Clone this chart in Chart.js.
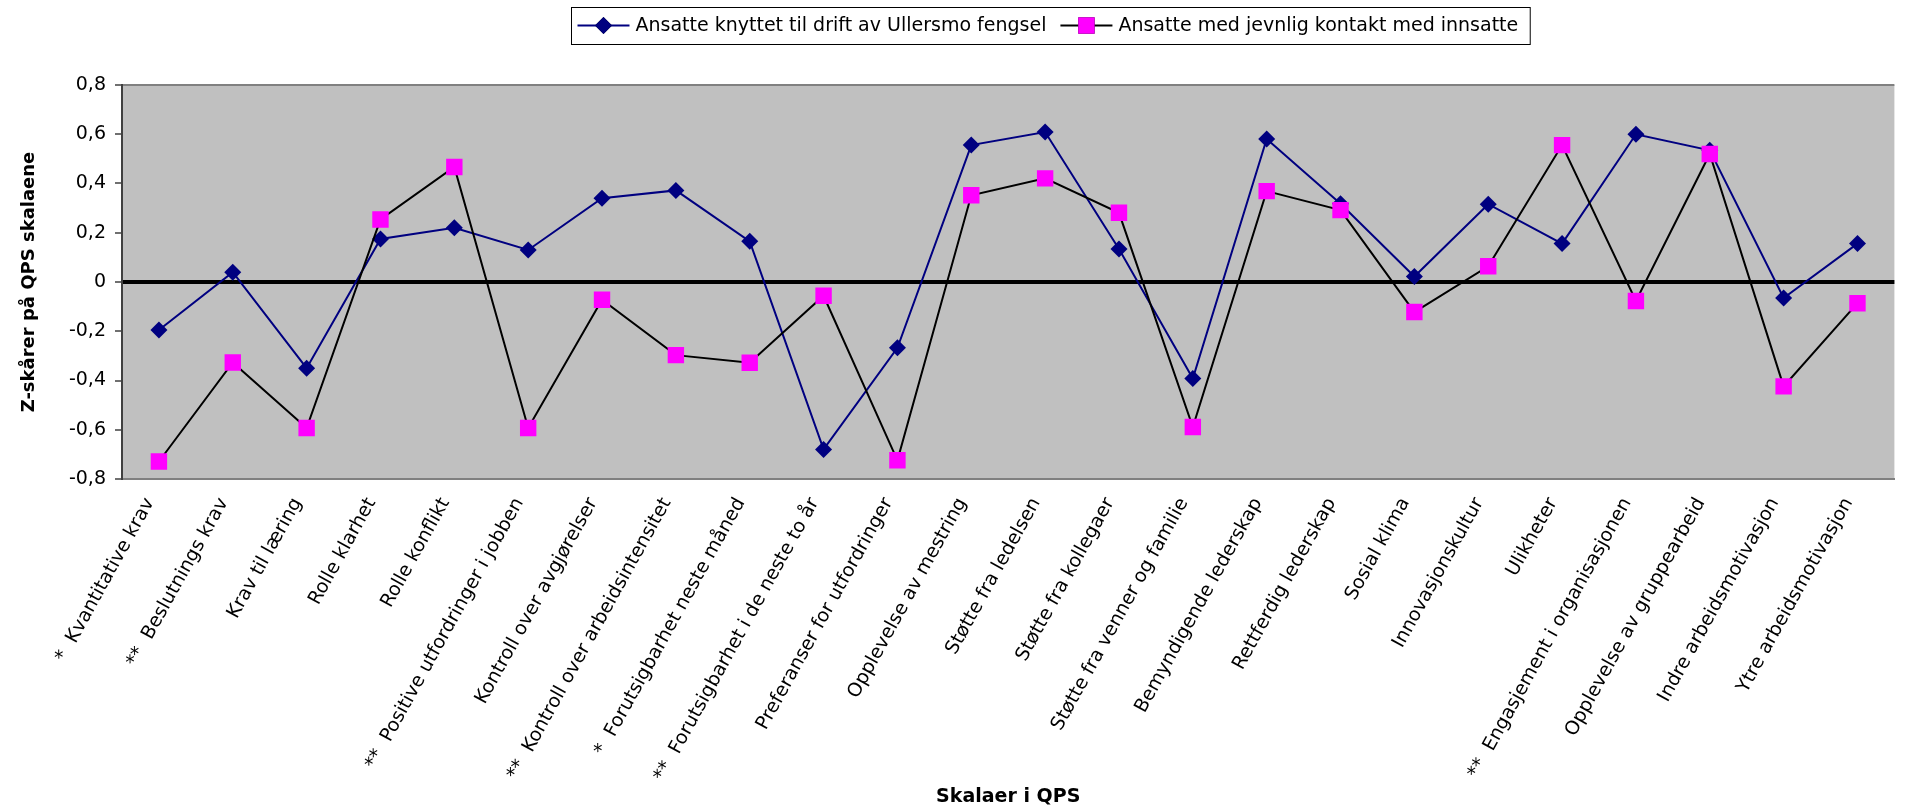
<!DOCTYPE html>
<html lang="no">
<head>
<meta charset="utf-8">
<title>QPS-skalaer</title>
<script src="https://cdn.jsdelivr.net/npm/chart.js@4.4.1/dist/chart.umd.min.js"></script>
<style>
  html, body { margin: 0; padding: 0; background: #ffffff; }
  canvas { display: block; }
</style>
</head>
<body>
<canvas id="chart" width="1906" height="810"></canvas>
<script>
// QPS-skalaer (kategorier på x-aksen)
const categories = [
  '*  Kvantitative krav',
  '**  Beslutnings krav',
  'Krav til læring',
  'Rolle klarhet',
  'Rolle konflikt',
  '**  Positive utfordringer i jobben',
  'Kontroll over avgjørelser',
  '**  Kontroll over arbeidsintensitet',
  '*  Forutsigbarhet neste måned',
  '**  Forutsigbarhet i de neste to år',
  'Preferanser for utfordringer',
  'Opplevelse av mestring',
  'Støtte fra ledelsen',
  'Støtte fra kollegaer',
  'Støtte fra venner og familie',
  'Bemyndigende lederskap',
  'Rettferdig lederskap',
  'Sosial klima',
  'Innovasjonskultur',
  'Ulikheter',
  '**  Engasjement i organisasjonen',
  'Opplevelse av gruppearbeid',
  'Indre arbeidsmotivasjon',
  'Ytre arbeidsmotivasjon'
];

// Z-skårer per gruppe
const driftLabel = 'Ansatte knyttet til drift av Ullersmo fengsel';
const driftValues = [
  -0.195, 0.04, -0.35, 0.175, 0.22, 0.13, 0.34, 0.372, 0.165, -0.68, -0.267, 0.556,
  0.609, 0.134, -0.392, 0.581, 0.318, 0.022, 0.316, 0.156, 0.6, 0.535, -0.065, 0.156
];

const kontaktLabel = 'Ansatte med jevnlig kontakt med innsatte';
const kontaktValues = [
  -0.729, -0.327, -0.593, 0.254, 0.467, -0.593, -0.072, -0.297, -0.328, -0.056, -0.724, 0.352,
  0.421, 0.281, -0.589, 0.369, 0.292, -0.122, 0.064, 0.556, -0.077, 0.52, -0.424, -0.086
];

// Verdiakse
const yTickValues = [-0.8, -0.6, -0.4, -0.2, 0, 0.2, 0.4, 0.6, 0.8];
const yTickLabels = ['-0,8', '-0,6', '-0,4', '-0,2', '0', '0,2', '0,4', '0,6', '0,8'];

const yTitle = 'Z-skårer på QPS skalaene';
const xTitle = 'Skalaer i QPS';

const FONT = 'DejaVu Sans';
const NAVY = '#000080';
const MAGENTA = '#ff00ff';
const PLOT_BG = '#c0c0c0';

// grey plot background
const plotBackground = {
  id: 'plotBackground',
  beforeDraw(chart) {
    const { ctx, chartArea: a } = chart;
    ctx.save();
    ctx.fillStyle = PLOT_BG;
    ctx.fillRect(a.left, a.top, a.right - a.left, a.bottom - a.top);
    ctx.restore();
  }
};

// boxed legend: line segment with marker, followed by the series name
const boxedLegend = {
  id: 'boxedLegend',
  afterDraw(chart, args, opts) {
    const { ctx } = chart;
    const sets = chart.data.datasets;
    ctx.save();
    ctx.font = `${opts.fontSize}px "${FONT}"`;
    const symW = 52, gapText = 6, gapItem = 14, padL = 6, padR = 12;
    const widths = sets.map(d => ctx.measureText(d.label).width);
    let total = padL + padR;
    widths.forEach((w, i) => { total += symW + gapText + w + (i < widths.length - 1 ? gapItem : 0); });
    const left = Math.round(opts.centerX - total / 2) + 0.5;
    const top = opts.top + 0.5;
    ctx.strokeStyle = '#000';
    ctx.lineWidth = 1;
    ctx.strokeRect(left, top, total, opts.height);
    const cy = opts.top + opts.height / 2;
    let x = left + padL;
    sets.forEach((d, i) => {
      ctx.strokeStyle = d.borderColor;
      ctx.lineWidth = d.borderWidth;
      ctx.beginPath();
      ctx.moveTo(x, cy);
      ctx.lineTo(x + symW, cy);
      ctx.stroke();
      Chart.helpers.drawPoint(ctx, {
        pointStyle: d.pointStyle,
        radius: d.pointRadius,
        rotation: 0,
        borderWidth: 0
      }, x + symW / 2, cy);
      ctx.fillStyle = d.pointBackgroundColor;
      ctx.fill();
      x += symW + gapText;
      ctx.fillStyle = '#000';
      ctx.textBaseline = 'middle';
      ctx.textAlign = 'left';
      ctx.fillText(d.label, x, cy + 1);
      x += widths[i] + gapItem;
    });
    ctx.restore();
  }
};

new Chart(document.getElementById('chart'), {
  type: 'line',
  data: {
    labels: categories,
    datasets: [
      {
        label: driftLabel,
        data: driftValues,
        borderColor: NAVY,
        borderWidth: 2,
        pointStyle: 'rectRot',
        pointRadius: 8.5,
        pointBackgroundColor: NAVY,
        pointBorderColor: NAVY,
        pointBorderWidth: 0,
        tension: 0,
        order: 1
      },
      {
        label: kontaktLabel,
        data: kontaktValues,
        borderColor: '#000000',
        borderWidth: 2,
        pointStyle: 'rect',
        pointRadius: 11.6,
        pointBackgroundColor: MAGENTA,
        pointBorderColor: MAGENTA,
        pointBorderWidth: 0,
        tension: 0,
        order: 0
      }
    ]
  },
  options: {
    responsive: false,
    animation: false,
    devicePixelRatio: 1,
    layout: { padding: { top: 85, left: 0, right: 0, bottom: 0 } },
    plugins: {
      legend: { display: false },
      tooltip: { enabled: false },
      boxedLegend: { centerX: 1050, top: 7, height: 37, fontSize: 19 }
    },
    scales: {
      x: {
        type: 'category',
        offset: true,
        afterFit(scale) { scale.height = 331; },
        grid: { display: false, drawTicks: false },
        border: { display: true, color: '#808080', width: 2 },
        ticks: {
          autoSkip: false,
          minRotation: 61,
          maxRotation: 61,
          padding: 15,
          labelOffset: -9,
          color: '#000',
          font: { family: FONT, size: 19 }
        },
        title: {
          display: true,
          text: xTitle,
          color: '#000',
          font: { family: FONT, size: 19, weight: 'bold' },
          padding: { top: 0, bottom: 2 }
        }
      },
      y: {
        min: -0.8,
        max: 0.8,
        afterFit(scale) { scale.width = 122; },
        afterBuildTicks(scale) { scale.ticks = yTickValues.map(v => ({ value: v })); },
        grid: {
          drawOnChartArea: true,
          drawTicks: true,
          tickLength: 7,
          tickWidth: 1.5,
          tickColor: '#404040',
          color: c => {
            const v = c.tick ? c.tick.value : null;
            if (v === 0) return '#000000';
            if (v === 0.8 || v === -0.8) return '#808080';
            return 'rgba(0,0,0,0)';
          },
          lineWidth: c => {
            const v = c.tick ? c.tick.value : null;
            if (v === 0) return 4;
            return 2;
          }
        },
        border: { display: true, color: '#404040', width: 2 },
        ticks: {
          padding: 9,
          color: '#000',
          font: { family: FONT, size: 19 },
          callback: (value, index) => yTickLabels[index]
        },
        title: {
          display: true,
          text: yTitle,
          color: '#000',
          font: { family: FONT, size: 18, weight: 'bold' },
          padding: { top: 19, bottom: 0 }
        }
      }
    }
  },
  plugins: [plotBackground, boxedLegend]
});
</script>
</body>
</html>
